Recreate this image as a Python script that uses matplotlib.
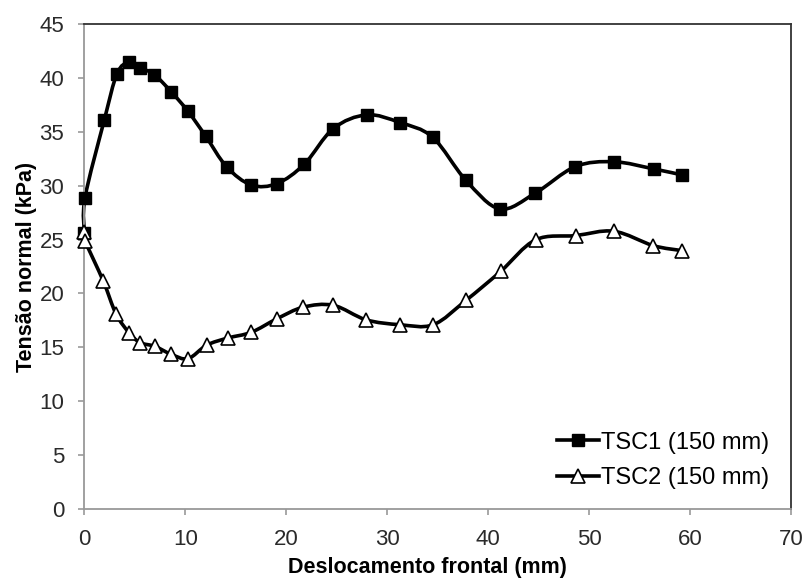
import numpy as np
import matplotlib
matplotlib.use("Agg")
import matplotlib.pyplot as plt
from matplotlib.path import Path
from matplotlib.patches import PathPatch
from matplotlib.lines import Line2D

plt.rcParams['font.family'] = ['Liberation Sans', 'DejaVu Sans']

# TSC1 (150 mm)
x1 = [0.0, 0.07, 1.98, 3.24, 4.43, 5.52, 6.93, 8.62, 10.27, 12.02, 14.1, 16.55,
      19.1, 21.8, 24.67, 27.97, 31.27, 34.5, 37.8, 41.17, 44.67, 48.63, 52.47,
      56.43, 59.2]
y1 = [25.6, 28.9, 36.1, 40.4, 41.45, 40.95, 40.3, 38.7, 36.9, 34.6, 31.75, 30.06,
      30.2, 32.0, 35.3, 36.57, 35.86, 34.5, 30.5, 27.84, 29.3, 31.76, 32.22,
      31.55, 31.0]

# TSC2 (150 mm)
x2 = [0.0, 0.07, 1.88, 3.14, 4.43, 5.52, 6.97, 8.62, 10.27, 12.12, 14.2, 16.55,
      19.1, 21.7, 24.67, 27.9, 31.27, 34.57, 37.8, 41.24, 44.7, 48.67, 52.47,
      56.36, 59.17]
y2 = [25.7, 24.9, 21.14, 18.1, 16.36, 15.44, 15.1, 14.35, 13.95, 15.2, 15.86, 16.4,
      17.66, 18.73, 18.9, 17.56, 17.1, 17.1, 19.35, 22.04, 24.97, 25.37, 25.77,
      24.44, 23.98]


def smooth_path(ax, xs, ys):
    # Excel-style smoothed line: cubic Bezier segments through each point
    p = ax.transData.transform(np.column_stack([xs, ys]))
    verts = [p[0]]
    codes = [Path.MOVETO]
    n = len(p)
    for i in range(n - 1):
        p0 = p[i - 1] if i > 0 else p[i]
        p3 = p[i + 2] if i + 2 < n else p[i + 1]
        c1 = p[i] + (p[i + 1] - p0) / 6.0
        c2 = p[i + 1] - (p3 - p[i]) / 6.0
        verts += [c1, c2, p[i + 1]]
        codes += [Path.CURVE4] * 3
    inv = ax.transData.inverted()
    return Path(inv.transform(np.array(verts)), codes)


fig = plt.figure(figsize=(8.07, 5.81), dpi=100)
ax = fig.add_axes([0.1045, 0.1239, 0.8755, 0.8348])
ax.set_xlim(0, 70)
ax.set_ylim(0, 45)

for xs, ys in [(x1, y1), (x2, y2)]:
    ax.add_patch(PathPatch(smooth_path(ax, xs, ys), facecolor='none',
                           edgecolor='black', lw=2.6, zorder=2, clip_on=False))

ax.plot(x1, y1, ls='none', marker='s', ms=8.5, mfc='black', mec='black',
        zorder=3, clip_on=False)
ax.plot(x2, y2, ls='none', marker='^', ms=9.5, mfc='white', mec='black',
        mew=1.2, zorder=4, clip_on=False)

ax.set_xticks(range(0, 71, 10))
ax.set_yticks(range(0, 46, 5))
ax.tick_params(axis='both', labelsize=16, color='#999999', length=4.5, width=1.2,
               labelcolor='#2a2a2a')
ax.tick_params(axis='x', pad=10)
ax.tick_params(axis='y', pad=10)
for s in ['left', 'bottom']:
    ax.spines[s].set_color('#999999')
    ax.spines[s].set_linewidth(1.3)
for s in ['top', 'right']:
    ax.spines[s].set_color('#333333')
    ax.spines[s].set_linewidth(1.3)

ax.set_xlabel('Deslocamento frontal (mm)', fontsize=15.5, fontweight='bold')
ax.xaxis.set_label_coords(0.485, -0.098)
ax.set_ylabel('Tensão normal (kPa)', fontsize=15.5, fontweight='bold', labelpad=2)

handles = [
    Line2D([], [], color='black', lw=2.6, marker='s', ms=8.5, mfc='black', mec='black'),
    Line2D([], [], color='black', lw=2.6, marker='^', ms=9.5, mfc='white', mec='black', mew=1.2),
]
ax.legend(handles, ['TSC1 (150 mm)', 'TSC2 (150 mm)'], loc='lower right',
          bbox_to_anchor=(1.0, -0.003), frameon=False, fontsize=17,
          handlelength=1.8, handletextpad=0.1, labelspacing=0.58)

fig.savefig('out.png', dpi=100)
